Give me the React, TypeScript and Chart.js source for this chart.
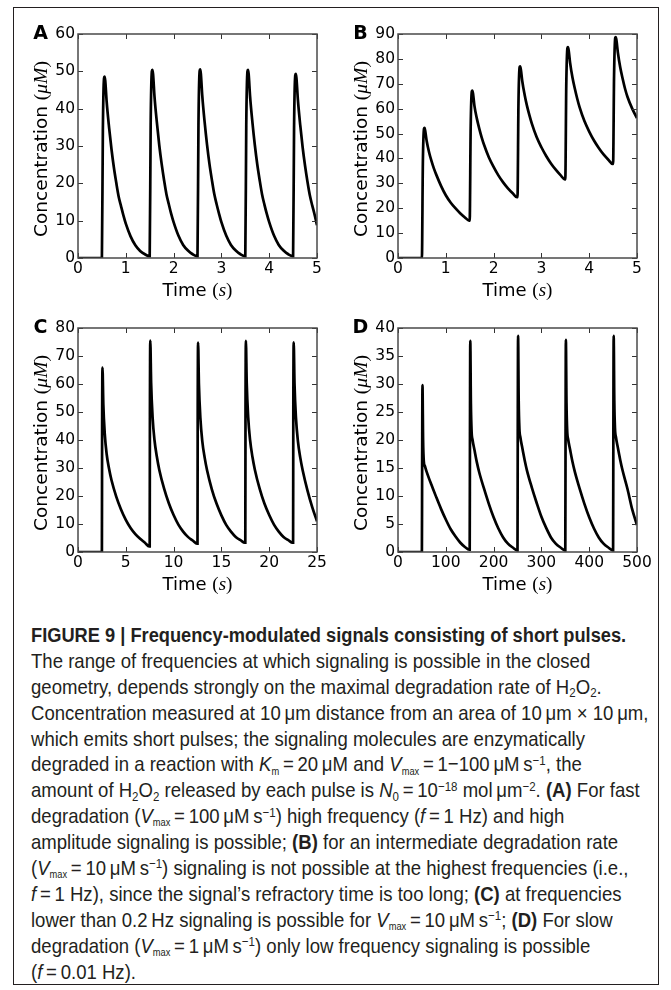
import React, { useEffect, useRef } from 'react';
import { Chart, registerables } from 'chart.js';

Chart.register(...registerables);

// ---------------- data ----------------
// Panel A: V_max = 100, f = 1 Hz
const A_TIME = [
  0, 0.5, 0.52, 0.545, 0.555, 0.57, 0.6, 0.65, 0.7, 0.75, 0.8, 0.85, 0.9, 0.95, 1.0, 1.1, 1.2, 1.3, 1.4, 1.49,
  1.5, 1.52, 1.545, 1.555, 1.57, 1.6, 1.65, 1.7, 1.75, 1.8, 1.85, 1.9, 1.95, 2.0, 2.1, 2.2, 2.3, 2.4, 2.49,
  2.5, 2.52, 2.545, 2.555, 2.57, 2.6, 2.65, 2.7, 2.75, 2.8, 2.85, 2.9, 2.95, 3.0, 3.1, 3.2, 3.3, 3.4, 3.49,
  3.5, 3.52, 3.545, 3.555, 3.57, 3.6, 3.65, 3.7, 3.75, 3.8, 3.85, 3.9, 3.95, 4.0, 4.1, 4.2, 4.3, 4.4, 4.49,
  4.5, 4.52, 4.545, 4.555, 4.57, 4.6, 4.65, 4.7, 4.75, 4.8, 4.85, 4.9, 4.95, 5.0,
];
const A_CONC = [
  0, 0, 34, 48.2, 48.6, 47.5, 41.8, 35.0, 29.2, 24.3, 20.2, 16.5, 13.9, 11.4, 9.2, 5.8, 3.4, 1.9, 1.0, 0.5,
  0.5, 35.5, 50.0, 50.4, 49.3, 43.3, 36.3, 30.2, 25.2, 20.9, 17.1, 14.4, 11.8, 9.6, 6.0, 3.5, 2.0, 1.0, 0.5,
  0.5, 35.6, 50.1, 50.5, 49.4, 43.4, 36.3, 30.3, 25.2, 21.0, 17.2, 14.4, 11.9, 9.6, 6.0, 3.5, 2.0, 1.0, 0.5,
  0.5, 35.5, 50.0, 50.4, 49.3, 43.3, 36.2, 30.2, 25.1, 20.9, 17.1, 14.3, 11.8, 9.6, 6.0, 3.5, 2.0, 1.0, 0.5,
  0.5, 34.7, 48.9, 49.3, 48.2, 42.4, 35.5, 29.6, 24.7, 20.5, 16.8, 14.1, 11.6, 8.8,
];

// Panel B: V_max = 10, f = 1 Hz
const B_TIME = [
  0, 0.5, 0.52, 0.545, 0.555, 0.57, 0.6, 0.65, 0.7, 0.75, 0.8, 0.9, 1.0, 1.1, 1.2, 1.3, 1.4, 1.49,
  1.5, 1.52, 1.545, 1.555, 1.57, 1.6, 1.65, 1.7, 1.75, 1.8, 1.9, 2.0, 2.1, 2.2, 2.3, 2.4, 2.49,
  2.5, 2.52, 2.545, 2.555, 2.57, 2.6, 2.65, 2.7, 2.75, 2.8, 2.9, 3.0, 3.1, 3.2, 3.3, 3.4, 3.49,
  3.5, 3.52, 3.545, 3.555, 3.57, 3.6, 3.65, 3.7, 3.75, 3.8, 3.9, 4.0, 4.1, 4.2, 4.3, 4.4, 4.49,
  4.5, 4.52, 4.545, 4.555, 4.57, 4.6, 4.65, 4.7, 4.75, 4.8, 4.9, 5.0,
];
const B_CONC = [
  0, 0, 38, 52.0, 52.3, 51.0, 47.0, 42.5, 39.0, 36.0, 33.5, 29.0, 25.2, 22.3, 20.0, 18.0, 16.3, 15.0,
  15.0, 52, 67.0, 67.3, 66.0, 61.0, 56.0, 52.0, 48.5, 45.5, 40.5, 36.6, 33.2, 30.4, 28.0, 26.0, 24.4,
  24.4, 62, 76.7, 77.0, 75.8, 71.0, 65.5, 61.0, 57.3, 54.0, 48.6, 44.5, 41.0, 38.0, 35.5, 33.3, 31.6,
  31.6, 69, 84.4, 84.7, 83.5, 78.5, 72.5, 68.0, 64.0, 60.5, 55.0, 50.8, 47.2, 44.2, 41.6, 39.5, 37.8,
  37.8, 73, 88.5, 88.8, 87.5, 82.5, 76.5, 72.0, 68.0, 64.8, 60.0, 56.2,
];

// Panel C: V_max = 10, f = 0.2 Hz
const C_TIME = [
  0, 2.5, 2.52, 2.56, 2.65, 2.8, 3.0, 3.25, 3.5, 4.0, 4.5, 5.0, 5.5, 6.0, 6.5, 7.0, 7.45,
  7.5, 7.52, 7.56, 7.65, 7.8, 8.0, 8.25, 8.5, 9.0, 9.5, 10.0, 10.5, 11.0, 11.5, 12.0, 12.45,
  12.5, 12.52, 12.56, 12.65, 12.8, 13.0, 13.25, 13.5, 14.0, 14.5, 15.0, 15.5, 16.0, 16.5, 17.0, 17.45,
  17.5, 17.52, 17.56, 17.65, 17.8, 18.0, 18.25, 18.5, 19.0, 19.5, 20.0, 20.5, 21.0, 21.5, 22.0, 22.45,
  22.5, 22.52, 22.56, 22.65, 22.8, 23.0, 23.25, 23.5, 24.0, 24.5, 25.0,
];
const C_CONC = [
  0, 0, 40, 65.9, 52.7, 42.2, 34.9, 29.7, 25.7, 19.8, 15.2, 11.5, 8.6, 6.4, 4.7, 3.3, 2.0,
  2.0, 46, 75.5, 60.4, 48.3, 40.0, 34.0, 29.4, 22.7, 17.4, 13.2, 9.8, 7.3, 5.4, 4.1, 3.0,
  3.0, 46, 74.8, 59.8, 47.9, 39.6, 33.7, 29.2, 22.4, 17.2, 13.1, 9.7, 7.3, 5.4, 4.2, 3.3,
  3.3, 46, 75.4, 60.3, 48.3, 40.0, 33.9, 29.4, 22.6, 17.3, 13.2, 9.8, 7.3, 5.4, 4.2, 3.3,
  3.3, 46, 74.9, 59.9, 47.9, 39.7, 33.7, 29.2, 22.0, 16.0, 11.0,
];

// Panel D: V_max = 1, f = 0.01 Hz
const D_TIME = [
  0, 50, 50.5, 51.2, 52.5, 54, 56, 60, 65, 70, 80, 90, 100, 110, 120, 130, 140, 149,
  150, 150.5, 151.2, 152.5, 154, 156, 160, 165, 170, 180, 190, 200, 210, 220, 230, 240, 249,
  250, 250.5, 251.2, 252.5, 254, 256, 260, 265, 270, 280, 290, 300, 310, 320, 330, 340, 349,
  350, 350.5, 351.2, 352.5, 354, 356, 360, 365, 370, 380, 390, 400, 410, 420, 430, 440, 449,
  450, 450.5, 451.2, 452.5, 454, 456, 460, 465, 470, 480, 490, 500,
];
const D_CONC = [
  0, 0, 15, 29.8, 20.0, 16.2, 15.4, 14.3, 13.1, 12.0, 9.8, 7.7, 5.8, 4.1, 2.8, 1.7, 0.9, 0.4,
  0.4, 19, 37.7, 26.5, 21.5, 20.0, 18.2, 16.0, 14.2, 11.3, 8.6, 6.2, 4.2, 2.6, 1.5, 0.8, 0.3,
  0.3, 19.5, 38.6, 27.0, 22.0, 20.5, 18.6, 16.4, 14.5, 11.5, 8.8, 6.3, 4.3, 2.6, 1.5, 0.8, 0.3,
  0.3, 19, 37.9, 26.6, 21.6, 20.1, 18.3, 16.1, 14.3, 11.3, 8.6, 6.2, 4.2, 2.6, 1.5, 0.8, 0.3,
  0.3, 19.5, 38.6, 27.0, 22.0, 20.5, 18.6, 16.4, 14.5, 11.3, 7.6, 4.8,
];

const A_X_TICKS = [0, 1, 2, 3, 4, 5];
const A_Y_TICKS = [0, 10, 20, 30, 40, 50, 60];
const B_X_TICKS = [0, 1, 2, 3, 4, 5];
const B_Y_TICKS = [0, 10, 20, 30, 40, 50, 60, 70, 80, 90];
const C_X_TICKS = [0, 5, 10, 15, 20, 25];
const C_Y_TICKS = [0, 10, 20, 30, 40, 50, 60, 70, 80];
const D_X_TICKS = [0, 100, 200, 300, 400, 500];
const D_Y_TICKS = [0, 5, 10, 15, 20, 25, 30, 35, 40];

const PANEL_LETTERS = ['A', 'B', 'C', 'D'];
const X_TITLE = ['Time ', '(', 's', ')'];
const Y_TITLE = ['Concentration ', '(', '\u03bcM', ')'];

// ---------------- layout ----------------
type Layout = {
  left: number; top: number; w: number; h: number;
  pl: number; pt: number; pr: number; pb: number;
};
const LAYOUTS: Layout[] = [
  { left: 0, top: 0, w: 340, h: 302, pl: 78, pt: 34, pr: 317, pb: 258 },
  { left: 340, top: 0, w: 331, h: 302, pl: 398, pt: 34, pr: 637, pb: 258 },
  { left: 0, top: 296, w: 340, h: 304, pl: 78, pt: 328, pr: 317, pb: 552 },
  { left: 340, top: 296, w: 331, h: 304, pl: 398, pt: 328, pr: 637, pb: 552 },
];

const SANS = '"DejaVu Sans", sans-serif';
const SERIF = '"Liberation Serif", "DejaVu Serif", serif';

type Seg = [string, string];

function drawRich(ctx: CanvasRenderingContext2D, segs: Seg[], cx: number, cy: number, rotate: boolean, base: number) {
  ctx.save();
  ctx.translate(cx, cy);
  if (rotate) ctx.rotate(-Math.PI / 2);
  ctx.textBaseline = 'alphabetic';
  ctx.textAlign = 'left';
  ctx.fillStyle = '#000';
  let total = 0;
  const widths = segs.map(([s, f]) => {
    ctx.font = f;
    const w = ctx.measureText(s).width;
    total += w;
    return w;
  });
  let x = -total / 2;
  segs.forEach(([s, f], i) => {
    ctx.font = f;
    ctx.fillText(s, x, base);
    x += widths[i];
  });
  ctx.restore();
}

type PanelProps = {
  idx: number;
  time: number[];
  conc: number[];
  xTicks: number[];
  yTicks: number[];
};

function Panel({ idx, time, conc, xTicks, yTicks }: PanelProps) {
  const ref = useRef<HTMLCanvasElement | null>(null);
  const L = LAYOUTS[idx];
  useEffect(() => {
    if (!ref.current) return;
    const padTop = L.pt - L.top;
    const yAxisW = L.pl - L.left;
    const padRight = L.left + L.w - L.pr;
    const xAxisH = L.top + L.h - L.pb;

    const deco = {
      id: 'deco' + idx,
      afterDraw(chart: any) {
        const { ctx, chartArea: a, scales } = chart;
        ctx.save();
        // inward ticks on all four sides
        ctx.strokeStyle = '#333';
        ctx.lineWidth = 1;
        ctx.beginPath();
        xTicks.forEach((v) => {
          const px = Math.round(scales.x.getPixelForValue(v)) + 0.5;
          ctx.moveTo(px, a.bottom);
          ctx.lineTo(px, a.bottom - 5);
          ctx.moveTo(px, a.top);
          ctx.lineTo(px, a.top + 5);
        });
        yTicks.forEach((v) => {
          const py = Math.round(scales.y.getPixelForValue(v)) + 0.5;
          ctx.moveTo(a.left, py);
          ctx.lineTo(a.left + 5, py);
          ctx.moveTo(a.right, py);
          ctx.lineTo(a.right - 5, py);
        });
        ctx.stroke();
        // frame
        ctx.strokeStyle = '#4a4a4a';
        ctx.lineWidth = 1.5;
        ctx.strokeRect(a.left, a.top, a.right - a.left, a.bottom - a.top);
        ctx.restore();

        // axis titles
        const xs: Seg[] = [
          [X_TITLE[0], '18px ' + SANS],
          [X_TITLE[1], '19px ' + SERIF],
          [X_TITLE[2], 'italic 19px ' + SERIF],
          [X_TITLE[3], '19px ' + SERIF],
        ];
        drawRich(ctx, xs, (a.left + a.right) / 2, a.bottom + 31, false, 6.5);
        const ys: Seg[] = [
          [Y_TITLE[0], '18.5px ' + SANS],
          [Y_TITLE[1], '19.5px ' + SERIF],
          [Y_TITLE[2], 'italic 19.5px ' + SERIF],
          [Y_TITLE[3], '19.5px ' + SERIF],
        ];
        drawRich(ctx, ys, a.left - 38, (a.top + a.bottom) / 2 + 3, true, 6.5);

        // panel letter
        ctx.save();
        ctx.fillStyle = '#000';
        ctx.font = 'bold 19px ' + SANS;
        ctx.textAlign = 'center';
        ctx.textBaseline = 'middle';
        ctx.fillText(PANEL_LETTERS[idx], a.left - 37.5, a.top + 0.5);
        ctx.restore();
      },
    };

    const chart = new Chart(ref.current, {
      type: 'line',
      data: {
        datasets: [
          {
            data: time.map((t, i) => ({ x: t, y: conc[i] })),
            borderColor: '#000',
            borderWidth: 2.7,
            pointRadius: 0,
            fill: false,
            cubicInterpolationMode: 'monotone',
          },
        ],
      },
      options: {
        animation: false,
        responsive: false,
        devicePixelRatio: 1,
        layout: { padding: { left: 0, top: padTop, right: padRight, bottom: 0 } },
        plugins: { legend: { display: false }, tooltip: { enabled: false } },
        scales: {
          x: {
            type: 'linear',
            min: xTicks[0],
            max: xTicks[xTicks.length - 1],
            afterBuildTicks: (s: any) => {
              s.ticks = xTicks.map((v) => ({ value: v }));
            },
            afterFit: (s: any) => {
              s.height = xAxisH;
            },
            grid: { display: false, drawTicks: false },
            border: { display: false },
            ticks: {
              font: { family: SANS, size: 15.5 },
              color: '#000',
              padding: 2,
              maxRotation: 0,
              autoSkip: false,
            },
          },
          y: {
            type: 'linear',
            min: yTicks[0],
            max: yTicks[yTicks.length - 1],
            afterBuildTicks: (s: any) => {
              s.ticks = yTicks.map((v) => ({ value: v }));
            },
            afterFit: (s: any) => {
              s.width = yAxisW;
            },
            grid: { display: false, drawTicks: false },
            border: { display: false },
            ticks: {
              font: { family: SANS, size: 15.5 },
              color: '#000',
              padding: 3,
              autoSkip: false,
            },
          },
        },
      } as any,
      plugins: [deco],
    });
    return () => chart.destroy();
  }, []);
  return (
    <canvas
      ref={ref}
      width={L.w}
      height={L.h}
      style={{ position: 'absolute', left: L.left, top: L.top, width: L.w, height: L.h }}
    />
  );
}

// ---------------- caption helpers ----------------
const subStyle: React.CSSProperties = { fontSize: '0.62em', position: 'relative', top: '0.28em', lineHeight: 0 };
const subSmall: React.CSSProperties = { fontSize: '0.5em', position: 'relative', top: '0.3em', lineHeight: 0 };
const supStyle: React.CSSProperties = { fontSize: '0.62em', position: 'relative', top: '-0.5em', lineHeight: 0 };
const Sub = ({ children }: { children: React.ReactNode }) => <span style={subStyle}>{children}</span>;
const SubS = ({ children }: { children: React.ReactNode }) => <span style={subSmall}>{children}</span>;
const Sup = ({ children }: { children: React.ReactNode }) => <span style={supStyle}>{children}</span>;
const I = ({ children }: { children: React.ReactNode }) => <i>{children}</i>;
const B = ({ children }: { children: React.ReactNode }) => <b>{children}</b>;
const T = '\u2009';
const Vmax = () => (
  <>
    <I>V</I>
    <SubS>max</SubS>
  </>
);

export default function App() {
  const lineStyle: React.CSSProperties = {
    whiteSpace: 'nowrap',
    height: 25.9,
    transform: 'scaleX(0.88)',
    transformOrigin: '0 50%',
  };
  const boldLine: React.CSSProperties = { ...lineStyle, transform: 'scaleX(0.865)' };
  return (
    <div style={{ position: 'absolute', left: 0, top: 0, width: 671, height: 990, background: '#fff', overflow: 'hidden' }}>
      <div
        style={{
          position: 'absolute',
          left: 13,
          top: 7,
          width: 646,
          height: 978,
          border: '1px solid #231f20',
          boxSizing: 'border-box',
        }}
      />
      <Panel idx={0} time={A_TIME} conc={A_CONC} xTicks={A_X_TICKS} yTicks={A_Y_TICKS} />
      <Panel idx={1} time={B_TIME} conc={B_CONC} xTicks={B_X_TICKS} yTicks={B_Y_TICKS} />
      <Panel idx={2} time={C_TIME} conc={C_CONC} xTicks={C_X_TICKS} yTicks={C_Y_TICKS} />
      <Panel idx={3} time={D_TIME} conc={D_CONC} xTicks={D_X_TICKS} yTicks={D_Y_TICKS} />
      <div
        style={{
          position: 'absolute',
          left: 31,
          top: 622,
          fontFamily: '"Liberation Sans", Arial, sans-serif',
          fontSize: 21.1,
          lineHeight: '25.9px',
          color: '#231f20',
        }}
      >
        <div style={boldLine}>
          <B>FIGURE 9 | Frequency-modulated signals consisting of short pulses.</B>
        </div>
        <div style={lineStyle}>The range of frequencies at which signaling is possible in the closed</div>
        <div style={lineStyle}>
          geometry, depends strongly on the maximal degradation rate of H<Sub>2</Sub>O<Sub>2</Sub>.
        </div>
        <div style={lineStyle}>
          Concentration measured at 10{T}μm distance from an area of 10{T}μm × 10{T}μm,
        </div>
        <div style={lineStyle}>which emits short pulses; the signaling molecules are enzymatically</div>
        <div style={lineStyle}>
          degraded in a reaction with <I>K</I>
          <SubS>m</SubS>
          {T}={T}20{T}μM and <Vmax />
          {T}={T}1−100{T}μM{T}s<Sup>−1</Sup>, the
        </div>
        <div style={lineStyle}>
          amount of H<Sub>2</Sub>O<Sub>2</Sub> released by each pulse is <I>N</I>
          <Sub>0</Sub>
          {T}={T}10<Sup>−18</Sup> mol{T}μm<Sup>−2</Sup>. <B>(A)</B> For fast
        </div>
        <div style={lineStyle}>
          degradation (<Vmax />
          {T}={T}100{T}μM{T}s<Sup>−1</Sup>) high frequency (<I>f</I>
          {T}={T}1 Hz) and high
        </div>
        <div style={lineStyle}>
          amplitude signaling is possible; <B>(B)</B> for an intermediate degradation rate
        </div>
        <div style={lineStyle}>
          (<Vmax />
          {T}={T}10{T}μM{T}s<Sup>−1</Sup>) signaling is not possible at the highest frequencies (i.e.,
        </div>
        <div style={lineStyle}>
          <I>f</I>
          {T}={T}1 Hz), since the signal’s refractory time is too long; <B>(C)</B> at frequencies
        </div>
        <div style={lineStyle}>
          lower than 0.2{T}Hz signaling is possible for <Vmax />
          {T}={T}10{T}μM{T}s<Sup>−1</Sup>; <B>(D)</B> For slow
        </div>
        <div style={lineStyle}>
          degradation (<Vmax />
          {T}={T}1{T}μM{T}s<Sup>−1</Sup>) only low frequency signaling is possible
        </div>
        <div style={lineStyle}>
          (<I>f</I>
          {T}={T}0.01 Hz).
        </div>
      </div>
    </div>
  );
}
